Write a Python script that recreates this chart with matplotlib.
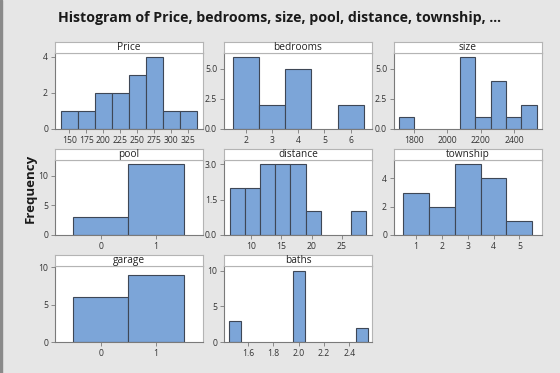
import matplotlib
matplotlib.use("Agg")
import matplotlib.pyplot as plt
from matplotlib.patches import Rectangle

plt.rcParams['font.family'] = ['Open Sans', 'DejaVu Sans']

# bin midpoints and counts
price_mid = [150, 175, 200, 225, 250, 275, 300, 325]
price_cnt = [1, 1, 2, 2, 3, 4, 1, 1]

bed_mid = [2, 3, 4, 5, 6]
bed_cnt = [6, 2, 5, 0, 2]

size_mid = [1754, 1846, 1938, 2030, 2122, 2214, 2306, 2398, 2490]
size_cnt = [1, 0, 0, 0, 6, 1, 4, 1, 2]

pool_mid = [0, 1]
pool_cnt = [3, 12]

dist_mid = [7.75, 10.25, 12.75, 15.25, 17.75, 20.25, 22.75, 25.25, 27.75]
dist_cnt = [2, 2, 3, 3, 3, 1, 0, 0, 1]

town_mid = [1, 2, 3, 4, 5]
town_cnt = [3, 2, 5, 4, 1]

garage_mid = [0, 1]
garage_cnt = [6, 9]

baths_mid = [1.5, 2.0, 2.5]
baths_cnt = [3, 10, 2]

# name, mids, counts, bar width, xlim, ylim, xticks, yticks, ytick labels
panels = [
    ("Price", price_mid, price_cnt, 25, (129, 347), 4.22,
     [150, 175, 200, 225, 250, 275, 300, 325], [0, 2, 4], ["0", "2", "4"]),
    ("bedrooms", bed_mid, bed_cnt, 1, (1.15, 6.82), 6.33,
     [2, 3, 4, 5, 6], [0, 2.5, 5], ["0.0", "2.5", "5.0"]),
    ("size", size_mid, size_cnt, 92, (1680, 2568), 6.33,
     [1800, 2000, 2200, 2400], [0, 2.5, 5], ["0.0", "2.5", "5.0"]),
    ("pool", pool_mid, pool_cnt, 1, (-0.83, 1.85), 12.67,
     [0, 1], [0, 5, 10], ["0", "5", "10"]),
    ("distance", dist_mid, dist_cnt, 2.5, (5.5, 30.0), 3.18,
     [10, 15, 20, 25], [0, 1.5, 3], ["0.0", "1.5", "3.0"]),
    ("township", town_mid, town_cnt, 1, (0.16, 5.87), 5.3,
     [1, 2, 3, 4, 5], [0, 2, 4], ["0", "2", "4"]),
    ("garage", garage_mid, garage_cnt, 1, (-0.83, 1.85), 10.2,
     [0, 1], [0, 5, 10], ["0", "5", "10"]),
    ("baths", baths_mid, baths_cnt, 0.095, (1.41, 2.58), 10.7,
     [1.6, 1.8, 2.0, 2.2, 2.4], [0, 5, 10], ["0", "5", "10"]),
]

W, H = 560, 373
bg = "#e6e6e6"
frame = "#b4b4b4"
fig = plt.figure(figsize=(5.6, 3.73), dpi=100, facecolor=bg)
fig.patches.append(Rectangle((0, 0), 2 / W, 1, transform=fig.transFigure,
                             color="#8a8a8a", zorder=0))

col_x = [55, 224, 394]
row_top = [42, 149, 255]
row_bot = [129, 235, 342]
pw = 148
strip_h = 11

for i, (name, mids, cnts, w, xl, ytop, xt, yt, ytl) in enumerate(panels):
    r, c = divmod(i, 3)
    x0 = col_x[c]
    top = row_top[r]
    bot = row_bot[r]
    ax = fig.add_axes([x0 / W, 1 - bot / H, pw / W, (bot - top - strip_h) / H])
    ax.set_facecolor("white")
    m = [a for a, b in zip(mids, cnts) if b > 0]
    h = [b for b in cnts if b > 0]
    ax.bar(m, h, width=w, color="#7ca5d8", edgecolor="#3e4756",
           linewidth=0.8, align="center")
    ax.set_xlim(*xl)
    ax.set_ylim(0, ytop)
    ax.set_xticks(xt)
    ax.set_xticklabels([f"{v:g}" if name != "baths" else f"{v:.1f}" for v in xt])
    ax.set_yticks(yt)
    ax.set_yticklabels(ytl)
    ax.tick_params(length=3, width=0.6, color="#7a7a7a", labelsize=6.2,
                   labelcolor="#333333", pad=2)
    for s in ax.spines.values():
        s.set_color(frame)
        s.set_linewidth(0.8)
    ax.spines["bottom"].set_color("#7a7a7a")
    ax.spines["left"].set_color("#7a7a7a")
    # strip with the variable name
    sax = fig.add_axes([x0 / W, 1 - (top + strip_h) / H, pw / W, strip_h / H])
    sax.set_facecolor("white")
    sax.set_xticks([])
    sax.set_yticks([])
    for s in sax.spines.values():
        s.set_color(frame)
        s.set_linewidth(0.8)
    sax.text(0.5, 0.5, name, ha="center", va="center", fontsize=7.3,
             color="#222222", transform=sax.transAxes)

fig.text(0.5, 1 - 18 / H, "Histogram of Price, bedrooms, size, pool, distance, township, ...",
         ha="center", va="center", fontsize=10.2, fontweight="bold", color="#1a1a1a")
fig.text(30 / W, 1 - 188 / H, "Frequency", rotation=90, ha="center", va="center",
         fontsize=9.5, fontweight="bold", color="#1a1a1a")

fig.savefig("out.png", dpi=100, facecolor=bg)
